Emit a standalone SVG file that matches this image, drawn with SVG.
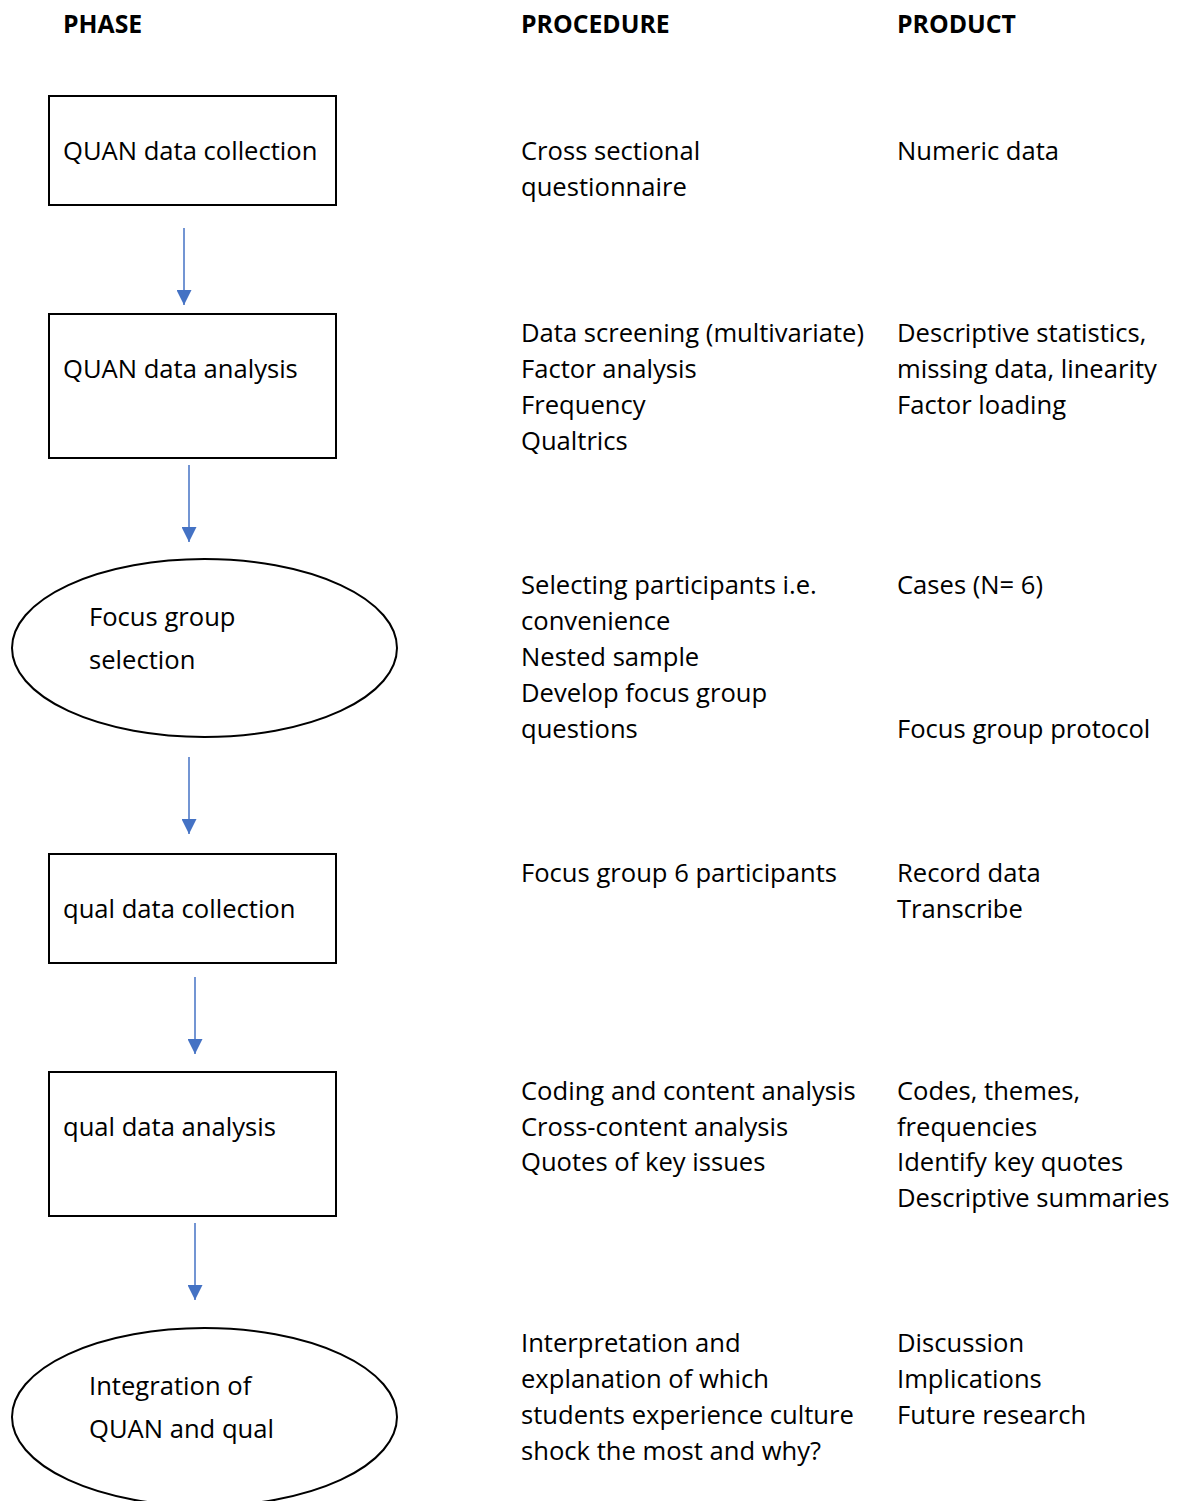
<svg xmlns="http://www.w3.org/2000/svg" width="1180" height="1501" viewBox="0 0 1180 1501">
<defs>
<style>
text{font-family:"Open Sans","Liberation Sans",sans-serif;font-size:25.6px;fill:#000}
.h{font-weight:bold;font-size:24.8px}
.box{fill:#fff;stroke:#000;stroke-width:2}
.arr{stroke:#4472C4;stroke-width:1.5;fill:none}
</style>
<marker id="a2" markerWidth="15" markerHeight="15" refX="15" refY="7.5" orient="auto" markerUnits="userSpaceOnUse" viewBox="0 0 15 15">
<path d="M0,0 L15,7.5 L0,15 Z" fill="#4472C4"/>
</marker>
</defs>
<rect width="1180" height="1501" fill="#fff"/>
<g id="headers">
<text class="h" x="63" y="33">PHASE</text>
<text class="h" x="521" y="33">PROCEDURE</text>
<text class="h" x="897" y="33">PRODUCT</text>
</g>
<g id="connectors">
<line class="arr" x1="184" y1="228" x2="184" y2="305" marker-end="url(#a2)"/>
<line class="arr" x1="189" y1="465" x2="189" y2="542" marker-end="url(#a2)"/>
<line class="arr" x1="189" y1="757" x2="189" y2="834" marker-end="url(#a2)"/>
<line class="arr" x1="195" y1="977" x2="195" y2="1054" marker-end="url(#a2)"/>
<line class="arr" x1="195" y1="1223" x2="195" y2="1300" marker-end="url(#a2)"/>
</g>
<g id="n1"><rect class="box" x="49" y="96" width="287" height="109"/><text x="63" y="160">QUAN data collection</text></g>
<g id="n2"><rect class="box" x="49" y="314" width="287" height="144"/><text x="63" y="378">QUAN data analysis</text></g>
<g id="n3"><ellipse class="box" cx="204.5" cy="648" rx="192.5" ry="89"/><text x="89" y="626">Focus group</text><text x="89" y="669">selection</text></g>
<g id="n4"><rect class="box" x="49" y="854" width="287" height="109"/><text x="63" y="918">qual data collection</text></g>
<g id="n5"><rect class="box" x="49" y="1072" width="287" height="144"/><text x="63" y="1136">qual data analysis</text></g>
<g id="n6"><ellipse class="box" cx="204.5" cy="1417" rx="192.5" ry="89"/><text x="89" y="1395">Integration of</text><text x="89" y="1438">QUAN and qual</text></g>
<g id="procedure">
<text x="521" y="160">Cross sectional</text>
<text x="521" y="196">questionnaire</text>
<text x="521" y="342">Data screening (multivariate)</text>
<text x="521" y="378">Factor analysis</text>
<text x="521" y="414">Frequency</text>
<text x="521" y="450">Qualtrics</text>
<text x="521" y="594">Selecting participants i.e.</text>
<text x="521" y="630">convenience</text>
<text x="521" y="666">Nested sample</text>
<text x="521" y="702">Develop focus group</text>
<text x="521" y="738">questions</text>
<text x="521" y="882">Focus group 6 participants</text>
<text x="521" y="1100">Coding and content analysis</text>
<text x="521" y="1136">Cross-content analysis</text>
<text x="521" y="1171">Quotes of key issues</text>
<text x="521" y="1352">Interpretation and</text>
<text x="521" y="1388">explanation of which</text>
<text x="521" y="1424">students experience culture</text>
<text x="521" y="1460">shock the most and why?</text>
</g>
<g id="product">
<text x="897" y="160">Numeric data</text>
<text x="897" y="342">Descriptive statistics,</text>
<text x="897" y="378">missing data, linearity</text>
<text x="897" y="414">Factor loading</text>
<text x="897" y="594">Cases (N= 6)</text>
<text x="897" y="738">Focus group protocol</text>
<text x="897" y="882">Record data</text>
<text x="897" y="918">Transcribe</text>
<text x="897" y="1100">Codes, themes,</text>
<text x="897" y="1136">frequencies</text>
<text x="897" y="1171">Identify key quotes</text>
<text x="897" y="1207">Descriptive summaries</text>
<text x="897" y="1352">Discussion</text>
<text x="897" y="1388">Implications</text>
<text x="897" y="1424">Future research</text>
</g>
</svg>
